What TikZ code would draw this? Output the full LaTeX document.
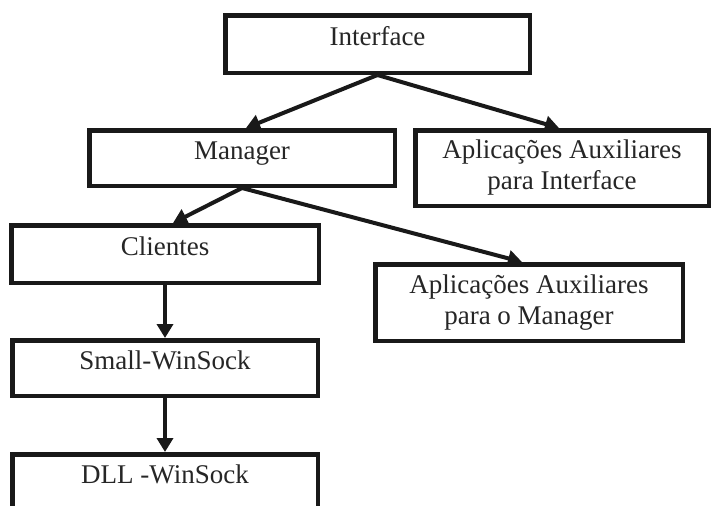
\documentclass[tikz,border=0pt]{standalone}
\usepackage{fontspec}
\setmainfont{Liberation Serif}
\usetikzlibrary{arrows, arrows.meta, shapes}
\usetikzlibrary{positioning}

\begin{document}
\begin{tikzpicture}[x=1pt,y=-1pt]

\tikzset{
  % boxes of the layers
  layer/.style={draw=black!90, line width=4.5pt, fill=white, inner sep=0pt,
    minimum width=#1, text=black!85, align=center,
    font=\fontsize{27}{31}\selectfont},
  layer/.default=305.5pt,
  % one line of text sits a bit high in its box
  oneline/.style={text height=3pt, text depth=0pt},
  % thick arrows between the layers
  link/.style={draw=black!90, line width=4pt,
    -{Triangle[length=14pt,width=16pt]}},
}

\useasboundingbox[fill=white] (0,0) rectangle (713,506);
\clip (0,0) rectangle (713,506);

\node[layer=304.5pt, oneline, minimum height=57.5pt] (interface) at (377.5,44) {Interface};
\node[layer, oneline, minimum height=55.5pt] (manager) at (242,158) {Manager};
\node[layer=293.5pt, minimum height=75.5pt] (auxif) at (562,168)
    {Aplicações Auxiliares\\para Interface};
\node[layer=307.5pt, oneline, minimum height=57.5pt] (clientes) at (165,254) {Clientes};
\node[layer=307.5pt, minimum height=76.5pt] (auxmgr) at (529,302.5)
    {Aplicações Auxiliares\\para o Manager};
\node[layer, oneline, minimum height=55.5pt] (small) at (165,368) {Small-WinSock};
\node[layer, oneline, minimum height=55.5pt] (dll) at (165,482) {DLL -WinSock};

\draw[link] (interface.south) -- ([xshift=4pt]manager.north);
\draw[link] (interface.south) -- ([xshift=-3pt]auxif.north);
\draw[link] (manager.south) -- ([xshift=8pt]clientes.north);
\draw[link] (manager.south) -- ([xshift=-7pt]auxmgr.north);
\draw[link] (clientes.south) -- (small.north);
\draw[link] (small.south) -- (dll.north);

\end{tikzpicture}
\end{document}
